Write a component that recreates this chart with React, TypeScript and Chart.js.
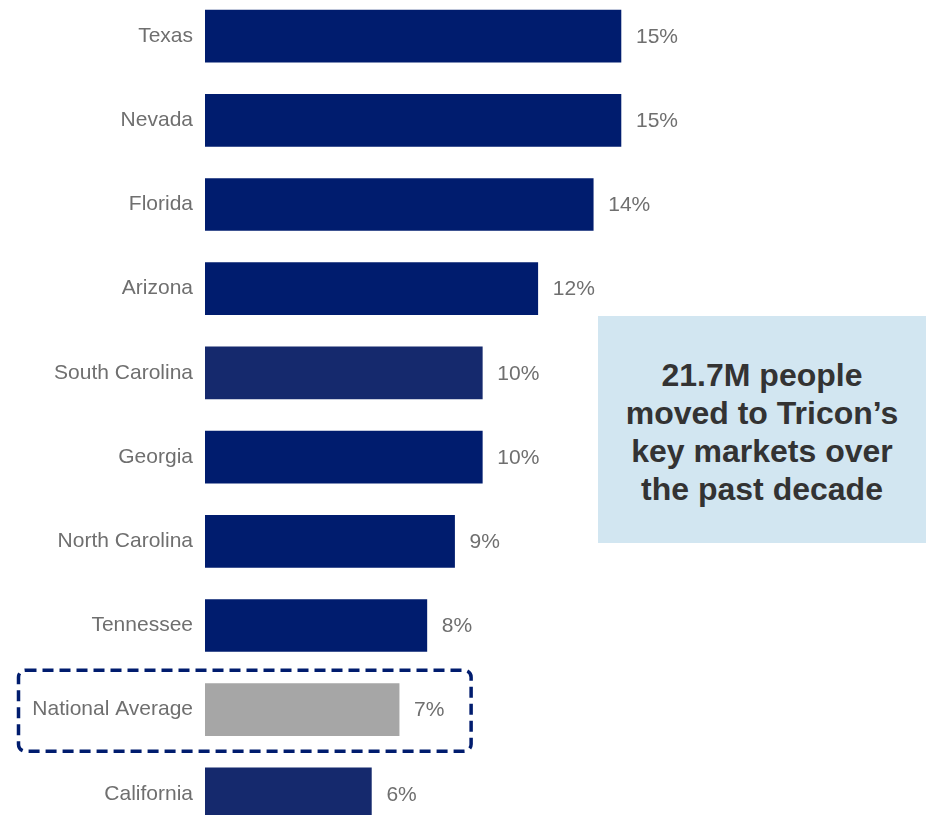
import React, { useEffect, useRef } from "react";
import { Chart, registerables } from "chart.js";

Chart.register(...registerables);

const categories = [
  "Texas",
  "Nevada",
  "Florida",
  "Arizona",
  "South Carolina",
  "Georgia",
  "North Carolina",
  "Tennessee",
  "National Average",
  "California",
];
const growthValues = [15, 15, 14, 12, 10, 10, 9, 8, 7, 6];
const valueLabels = ["15%", "15%", "14%", "12%", "10%", "10%", "9%", "8%", "7%", "6%"];
const barColors = [
  "#001C6E",
  "#001C6E",
  "#001C6E",
  "#001C6E",
  "#15296D",
  "#001C6E",
  "#001C6E",
  "#001C6E",
  "#A6A6A6",
  "#15296D",
];
const highlightCategory = "National Average";
const calloutLines = ["21.7M people", "moved to Tricon\u2019s", "key markets over", "the past decade"];

const FONT = "'Liberation Sans', Arial, sans-serif";

const overlayPlugin = {
  id: "overlay",
  afterDatasetsDraw(chart: any) {
    const { ctx } = chart;
    const meta = chart.getDatasetMeta(0);
    ctx.save();
    ctx.font = `21px ${FONT}`;
    ctx.fillStyle = "#6F6F6F";
    ctx.textAlign = "left";
    ctx.textBaseline = "middle";
    meta.data.forEach((bar: any, i: number) => {
      ctx.fillText(valueLabels[i], bar.x + 15, bar.y + 1);
    });
    // dashed highlight box
    const idx = categories.indexOf(highlightCategory);
    const b = meta.data[idx];
    if (b) {
      const left = 18.5;
      const right = b.x + 72;
      const top = b.y - 39.5;
      const bottom = b.y + 41.5;
      ctx.strokeStyle = "#001C6E";
      ctx.lineWidth = 3.5;
      ctx.setLineDash([11, 6]);
      ctx.beginPath();
      (ctx as any).roundRect(left, top, right - left, bottom - top, 7);
      ctx.stroke();
    }
    ctx.restore();
  },
};

export default function App() {
  const canvasRef = useRef<HTMLCanvasElement | null>(null);

  useEffect(() => {
    const canvas = canvasRef.current;
    if (!canvas) return;
    const chart = new Chart(canvas, {
      type: "bar",
      data: {
        labels: categories,
        datasets: [
          {
            data: growthValues,
            backgroundColor: barColors,
            borderWidth: 0,
            barThickness: 52,
          },
        ],
      },
      options: {
        indexAxis: "y",
        responsive: false,
        animation: false,
        devicePixelRatio: 1,
        layout: { padding: 0 },
        plugins: {
          legend: { display: false },
          tooltip: { enabled: false },
        },
        scales: {
          x: {
            display: false,
            min: 0,
            max: 26,
          },
          y: {
            grid: { display: false, drawTicks: false },
            border: { display: false },
            ticks: {
              padding: 12,
              color: "#6F6F6F",
              font: { family: FONT, size: 21 },
            },
            afterFit(scale: any) {
              scale.width = 205;
              scale.paddingTop = 0;
              scale.paddingBottom = 0;
            },
          },
        },
      },
      plugins: [overlayPlugin],
    });
    return () => chart.destroy();
  }, []);

  return (
    <div
      style={{
        position: "absolute",
        left: 0,
        top: 0,
        width: 926,
        height: 815,
        overflow: "hidden",
        background: "#FFFFFF",
      }}
    >
      <canvas
        ref={canvasRef}
        width={926}
        height={842}
        style={{ position: "absolute", left: 0, top: -6, width: 926, height: 842 }}
      />
      <div
        style={{
          position: "absolute",
          left: 598,
          top: 316,
          width: 328,
          height: 227,
          background: "#D2E6F1",
          display: "flex",
          alignItems: "center",
          justifyContent: "center",
          textAlign: "center",
          fontFamily: FONT,
          fontWeight: "bold",
          fontSize: 32,
          lineHeight: "38px",
          color: "#333333",
        }}
      >
        <div style={{ marginTop: 4 }}>
          {calloutLines.map((l, i) => (
            <div key={i}>{l}</div>
          ))}
        </div>
      </div>
    </div>
  );
}
